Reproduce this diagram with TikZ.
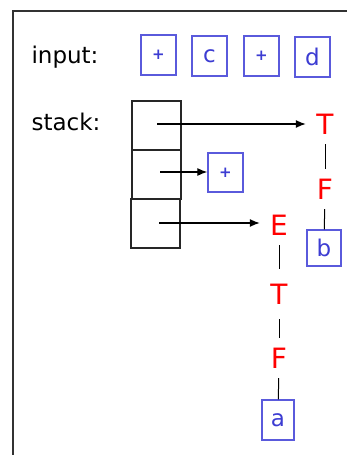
\documentclass[tikz,border=0pt]{standalone}
\usepackage{fontspec}
\setmainfont{DejaVu Sans}
\usetikzlibrary{arrows.meta}
\definecolor{tblue}{RGB}{60,60,210}
\definecolor{bblue}{RGB}{90,90,220}
\definecolor{tred}{RGB}{255,0,0}
\definecolor{frame}{RGB}{50,50,50}
\begin{document}
\begin{tikzpicture}[x=1pt,y=-1pt,
  lbl/.style={font=\fontsize{23}{25}\selectfont, text=black},
  inbox/.style={draw=bblue, line width=1.3pt, minimum width=35pt, minimum height=40pt, inner sep=0pt, text=tblue, font=\fontsize{23}{25}\selectfont},
  plusbox/.style={inbox, font=\fontsize{15}{17}\selectfont\bfseries},
  stk/.style={draw=black!85, line width=1.4pt, minimum width=49pt, minimum height=49pt, inner sep=0pt},
  nt/.style={text=tred, font=\fontsize{28}{30}\selectfont, minimum width=38pt, minimum height=40pt, inner sep=0pt},
  arr/.style={line width=1.2pt, -{Latex[length=10pt,width=8pt]}},
  ln/.style={line width=1pt}]
\useasboundingbox (0,0) rectangle (347,455);
\draw[frame, line width=2pt] (13,460) -- (13,11) -- (350,11);
\node[lbl, anchor=west] (inlbl) at (28,57) {input:};
\node[lbl, anchor=west] (stlbl) at (28,122) {stack:};
\node[plusbox] (i1) at (158.5,55) {+};
\node[inbox] (i2) at (209.5,56) {c};
\node[plusbox] (i3) at (261.5,56) {+};
\node[inbox] (i4) at (312.5,57) {d};
\node[stk] (s1) at (156.5,125.5) {};
\node[stk] (s2) at (156.5,174.5) {};
\node[stk] (s3) at (155.5,223.5) {};
\node[nt] (T1) at (325,124) {T};
\node[nt] (F1) at (325,189) {F};
\node[inbox, minimum width=34pt, minimum height=36pt] (b) at (324,248) {b};
\node[plusbox, minimum height=39pt] (p) at (225.5,172.5) {+};
\node[nt] (E) at (279,225) {E};
\node[nt, minimum height=50pt] (T2) at (279,294) {T};
\node[nt] (F2) at (279,358) {F};
\node[inbox, minimum width=32pt] (a) at (278,420) {a};
\coordinate (c1) at (157,124);
\coordinate (c2) at (160,172);
\coordinate (c3) at (159,223);
\draw[arr] (c1) -- (c1 -| T1.west);
\draw[arr] (c2) -- (c2 -| p.west);
\draw[arr] (c3) -- (c3 -| E.west);
\draw[ln] (T1) -- (F1);
\draw[ln] (F1) -- (b);
\draw[ln] (E) -- (T2);
\draw[ln] (T2) -- (F2);
\draw[ln] (F2) -- (a);
\end{tikzpicture}
\end{document}
